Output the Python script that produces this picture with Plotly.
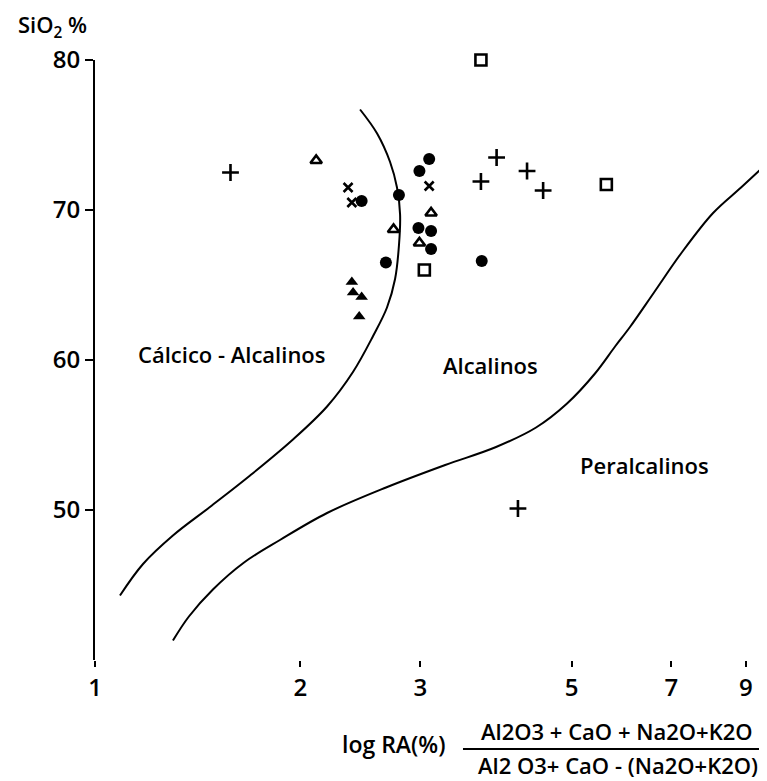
import numpy as np
import plotly.graph_objects as go

# ---- data ----
plus_x = [1.58, 3.88, 3.68, 4.30, 4.54, 4.17]
plus_y = [72.5, 73.5, 71.9, 72.6, 71.3, 50.1]

square_x = [3.68, 5.62, 3.04]
square_y = [80.0, 71.7, 66.0]

cross_x = [2.35, 2.38, 3.09]
cross_y = [71.5, 70.5, 71.6]

dot_x = [2.46, 2.79, 3.09, 2.99, 2.98, 3.11, 3.11, 2.67, 3.69]
dot_y = [70.6, 71.0, 73.4, 72.6, 68.8, 68.6, 67.4, 66.5, 66.6]

otri_x = [2.11, 2.74, 3.11, 2.99]
otri_y = [73.3, 68.7, 69.8, 67.8]

ftri_x = [2.38, 2.39, 2.46, 2.44]
ftri_y = [65.2, 64.5, 64.2, 62.9]

# boundary curves
left_x = [2.447, 2.592, 2.708, 2.772, 2.801, 2.791, 2.754, 2.680, 2.557, 2.389,
          2.189, 1.951, 1.688, 1.474, 1.301, 1.176, 1.088]
left_y = [76.7, 75.1, 73.2, 71.5, 69.7, 67.7, 65.4, 63.5, 61.6, 59.2,
          56.9, 54.7, 52.3, 50.2, 48.3, 46.4, 44.3]

right_x = [1.301, 1.373, 1.489, 1.654, 1.867, 2.189, 2.671, 3.262, 3.873, 4.433,
           4.922, 5.409, 5.788, 6.087, 6.601, 7.232, 8.058, 8.856, 9.667]
right_y = [41.3, 42.9, 44.7, 46.5, 48.0, 49.8, 51.5, 53.0, 54.2, 55.5,
           57.1, 59.1, 60.9, 62.2, 64.5, 67.1, 69.8, 71.5, 73.1]

x_ticks = [1, 2, 3, 5, 7, 9]
y_ticks = [50, 60, 70, 80]

regions = ["Cálcico - Alcalinos", "Alcalinos", "Peralcalinos"]
region_x = [1.59, 3.80, 6.40]
region_y = [60.4, 59.7, 53.0]

FONT = "Open Sans"
BLACK = "#000000"

fig = go.Figure()

fig.add_trace(go.Scatter(x=left_x, y=left_y, mode="lines",
                         line=dict(color=BLACK, width=2, shape="spline"), hoverinfo="skip"))
fig.add_trace(go.Scatter(x=right_x, y=right_y, mode="lines",
                         line=dict(color=BLACK, width=2, shape="spline"), hoverinfo="skip"))

fig.add_trace(go.Scatter(x=plus_x, y=plus_y, mode="markers", cliponaxis=False,
                         marker=dict(symbol="cross-thin", size=12, line=dict(color=BLACK, width=2.6))))
fig.add_trace(go.Scatter(x=square_x, y=square_y, mode="markers", cliponaxis=False,
                         marker=dict(symbol="square-open", size=11, color=BLACK, line=dict(width=2.6))))
fig.add_trace(go.Scatter(x=cross_x, y=cross_y, mode="markers", cliponaxis=False,
                         marker=dict(symbol="x-thin", size=9, line=dict(color=BLACK, width=2.6))))
fig.add_trace(go.Scatter(x=dot_x, y=dot_y, mode="markers", cliponaxis=False,
                         marker=dict(symbol="circle", size=12, color=BLACK)))
fig.add_trace(go.Scatter(x=otri_x, y=otri_y, mode="markers", cliponaxis=False,
                         marker=dict(symbol="triangle-up-open", size=10, color=BLACK, line=dict(width=2.6))))
fig.add_trace(go.Scatter(x=ftri_x, y=ftri_y, mode="markers", cliponaxis=False,
                         marker=dict(symbol="triangle-up", size=11, color=BLACK)))

annotations = []
for t, xv, yv in zip(regions, region_x, region_y):
    annotations.append(dict(text=t, x=np.log10(xv), y=yv, xref="x", yref="y",
                            xanchor="center", yanchor="middle",
                            showarrow=False, font=dict(family=FONT, size=22, color=BLACK, weight=600)))

annotations += [
    dict(text="SiO<sub>2</sub> %", x=-0.118, y=1.057, xref="paper", yref="paper",
         xanchor="left", yanchor="middle", showarrow=False,
         font=dict(family=FONT, size=22, color=BLACK, weight=600)),
    dict(text="log RA(%)", x=0.445, y=-0.14, xref="paper", yref="paper",
         xanchor="center", yanchor="middle",
         showarrow=False, font=dict(family=FONT, size=23, color=BLACK, weight=600)),
    dict(text="Al2O3 + CaO + Na2O+K2O", x=0.7775, y=-0.1183, xref="paper", yref="paper",
         xanchor="center", yanchor="middle",
         showarrow=False, font=dict(family=FONT, size=22, color=BLACK, weight=600)),
    dict(text="Al2 O3+ CaO - (Na2O+K2O)", x=0.779, y=-0.175, xref="paper", yref="paper",
         xanchor="center", yanchor="middle",
         showarrow=False, font=dict(family=FONT, size=22, color=BLACK, weight=600)),
]

shapes = [
    dict(type="line", xref="x", yref="y", x0=np.log10(1), x1=np.log10(9), y0=40, y1=40,
         line=dict(color=BLACK, width=2)),
    dict(type="line", xref="paper", yref="paper", x0=0.5476, x1=1.0, y0=-0.1483, y1=-0.1483,
         line=dict(color=BLACK, width=2)),
]

fig.update_layout(
    width=759, height=773,
    margin=dict(l=87, r=0, t=52, b=121),
    paper_bgcolor="white", plot_bgcolor="white",
    showlegend=False,
    annotations=annotations, shapes=shapes,
    font=dict(family=FONT, color=BLACK),
    xaxis=dict(type="log", range=[0, np.log10(9.667)], showgrid=False, zeroline=False,
               showline=False, tickvals=x_ticks, ticktext=[str(v) for v in x_ticks],
               ticks="outside", ticklen=6, tickwidth=2, tickcolor=BLACK,
               tickfont=dict(family=FONT, size=24, color=BLACK, weight=600)),
    yaxis=dict(range=[40, 80], showgrid=False, zeroline=False, showline=True,
               linecolor=BLACK, linewidth=2, tickvals=y_ticks,
               ticks="outside", ticklen=8, tickwidth=2, tickcolor=BLACK,
               tickfont=dict(family=FONT, size=24, color=BLACK, weight=600)),
)

fig.write_html("out.html")
